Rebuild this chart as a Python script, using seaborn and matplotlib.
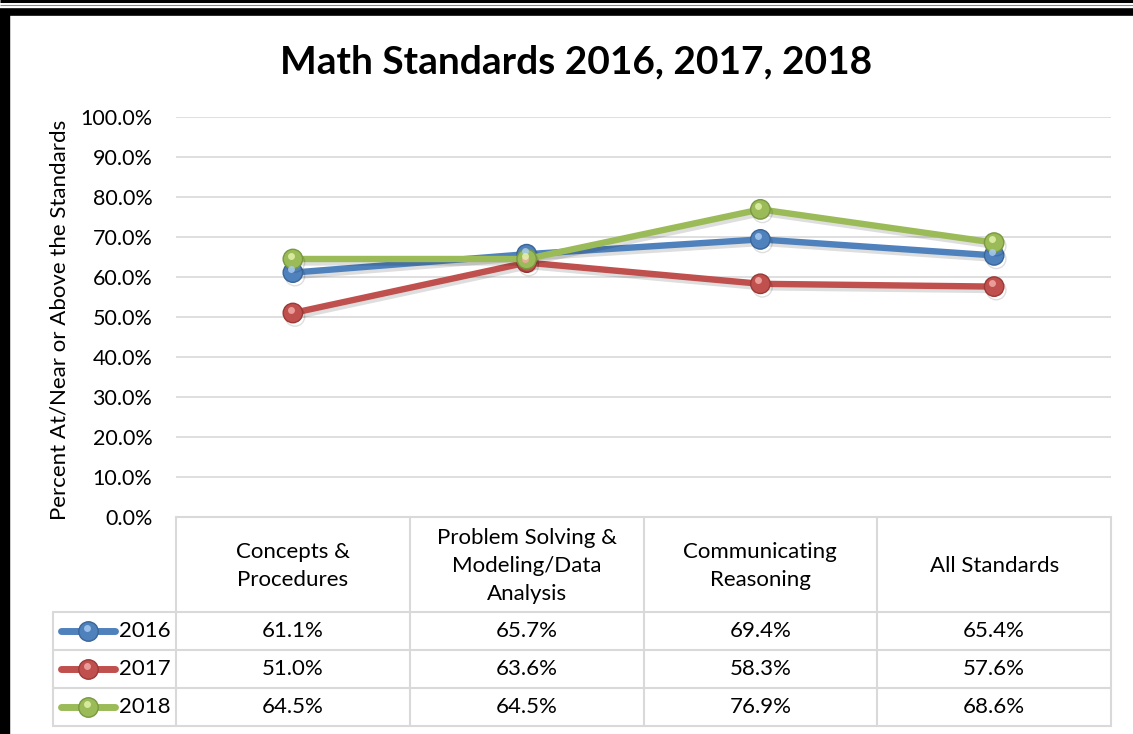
import matplotlib
matplotlib.use("Agg")
import matplotlib.pyplot as plt
import matplotlib.patheffects as pe
import matplotlib.transforms as mtransforms
import seaborn as sns
import pandas as pd
import numpy as np

# ---- data ----
categories = ["Concepts &\nProcedures", "Problem Solving &\nModeling/Data\nAnalysis",
              "Communicating\nReasoning", "All Standards"]
years = ["2016", "2017", "2018"]
vals_2016 = [61.1, 65.7, 69.4, 65.4]
vals_2017 = [51.0, 63.6, 58.3, 57.6]
vals_2018 = [64.5, 64.5, 76.9, 68.6]
yticks = [0, 10, 20, 30, 40, 50, 60, 70, 80, 90, 100]
title = "Math Standards 2016, 2017, 2018"
ylabel = "Percent At/Near or Above the Standards"

colors = {"2016": "#4F81BD", "2017": "#C0504D", "2018": "#9BBB59"}
edge = {"2016": "#3A6598", "2017": "#9A3A37", "2018": "#7A9840"}
light = {"2016": "#A8CBF2", "2017": "#F2AAA6", "2018": "#E2F2A8"}

series = {"2016": vals_2016, "2017": vals_2017, "2018": vals_2018}
rows = []
for y in years:
    for i, v in enumerate(series[y]):
        rows.append({"pos": i, "value": v, "year": y})
df = pd.DataFrame(rows)

sns.set_theme(style="white")
FONT = "Lato"
plt.rcParams["font.family"] = [FONT, "DejaVu Sans"]
plt.rcParams["text.color"] = "black"

W, H = 1133, 734
fig = plt.figure(figsize=(W / 100, H / 100), dpi=100)
fig.patch.set_facecolor("white")

def fx(x):
    return x / W

def fy(y):
    return 1 - y / H

FS = 16

# ---- frame borders (black double top line, thick left) ----
frame = fig.add_axes([0, 0, 1, 1], zorder=-5)
frame.set_xlim(0, W)
frame.set_ylim(H, 0)
frame.axis("off")
frame.plot([0, W], [1.2, 1.2], color="black", lw=2.2, solid_capstyle="butt")
frame.plot([0, W], [4.5, 4.5], color="#888888", lw=0.8, solid_capstyle="butt")
frame.plot([0, W], [12, 12], color="black", lw=5.5, solid_capstyle="butt")
frame.plot([5, 5], [9, H], color="black", lw=7.5, solid_capstyle="butt")

# ---- main plot ----
x0, x1, ytop, ybot = 176, 1111, 117, 517
ax = fig.add_axes([fx(x0), fy(ybot), fx(x1 - x0), (ybot - ytop) / H])

sns.lineplot(data=df, x="pos", y="value", hue="year", palette=colors,
             hue_order=years, marker="o", markersize=14, linewidth=4.6,
             legend=False, ax=ax, zorder=3)
for line, y in zip(ax.lines, years):
    line.set_markeredgecolor(edge[y])
    line.set_markeredgewidth(1.0)
    line.set_solid_capstyle("round")
    line.set_path_effects([pe.SimpleLineShadow(offset=(1.5, -2.5), shadow_color="black", alpha=0.13),
                           pe.Normal()])
# specular highlights on spheres
hl = mtransforms.offset_copy(ax.transData, fig=fig, x=-1.5, y=2.5, units="points")
for y in years:
    ax.plot(range(len(categories)), series[y], ls="none", marker="o", markersize=5,
            color=light[y], markeredgewidth=0, alpha=0.85, transform=hl, zorder=4)

ax.set_xlim(-0.5, len(categories) - 0.5)
ax.set_ylim(0, 100)
ax.set_yticks(yticks)
ax.set_yticklabels([f"{t:.1f}%" for t in yticks], fontsize=FS - 0.5, color="black")
ax.set_xticks([])
ax.grid(axis="y", color="#D9D9D9", lw=1.2)
ax.set_axisbelow(True)
for s in ax.spines.values():
    s.set_visible(False)
ax.tick_params(axis="y", length=0, pad=17)
ax.set_xlabel("")
ax.set_ylabel("")

fig.text(fx(60), fy(320), ylabel, rotation=90, ha="center", va="center", fontsize=FS,
         color="black")
fig.text(fx(576), fy(62), title, ha="center", va="center", fontsize=28, fontweight="bold",
         color="black")

# ---- data table ----
tb = fig.add_axes([0, 0, 1, 1], zorder=1)
tb.set_xlim(0, W)
tb.set_ylim(H, 0)
tb.axis("off")
gc = "#D9D9D9"
colx = np.linspace(x0, x1, len(categories) + 1)
hdr_bot = 612
row_h = 38
row_y = [hdr_bot + i * row_h for i in range(len(years) + 1)]
leg_x = 53
tb.plot([x0, x1], [ybot, ybot], color=gc, lw=1.5)
for cx in colx:
    tb.plot([cx, cx], [ybot, row_y[-1]], color=gc, lw=1.5)
for ry in row_y:
    tb.plot([leg_x, x1], [ry, ry], color=gc, lw=1.5)
tb.plot([leg_x, leg_x], [hdr_bot, row_y[-1]], color=gc, lw=1.5)
for i, c in enumerate(categories):
    tb.text((colx[i] + colx[i + 1]) / 2, (ybot + hdr_bot) / 2 + 1, c, ha="center",
            va="center", fontsize=FS, linespacing=1.5, color="black")
for r, y in enumerate(years):
    cy = (row_y[r] + row_y[r + 1]) / 2
    tb.plot([61, 115], [cy, cy], color=colors[y], lw=5, solid_capstyle="round")
    tb.plot([88], [cy], marker="o", markersize=14, color=colors[y],
            markeredgecolor=edge[y], markeredgewidth=1.0)
    tb.plot([86.5], [cy - 3], marker="o", markersize=5, color=light[y],
            markeredgewidth=0, alpha=0.85)
    tb.text(119, cy, y, ha="left", va="center", fontsize=FS, color="black")
    for i, v in enumerate(series[y]):
        tb.text((colx[i] + colx[i + 1]) / 2, cy, f"{v:.1f}%", ha="center",
                va="center", fontsize=FS, color="black")

fig.savefig("out.png", dpi=100, facecolor="white")
